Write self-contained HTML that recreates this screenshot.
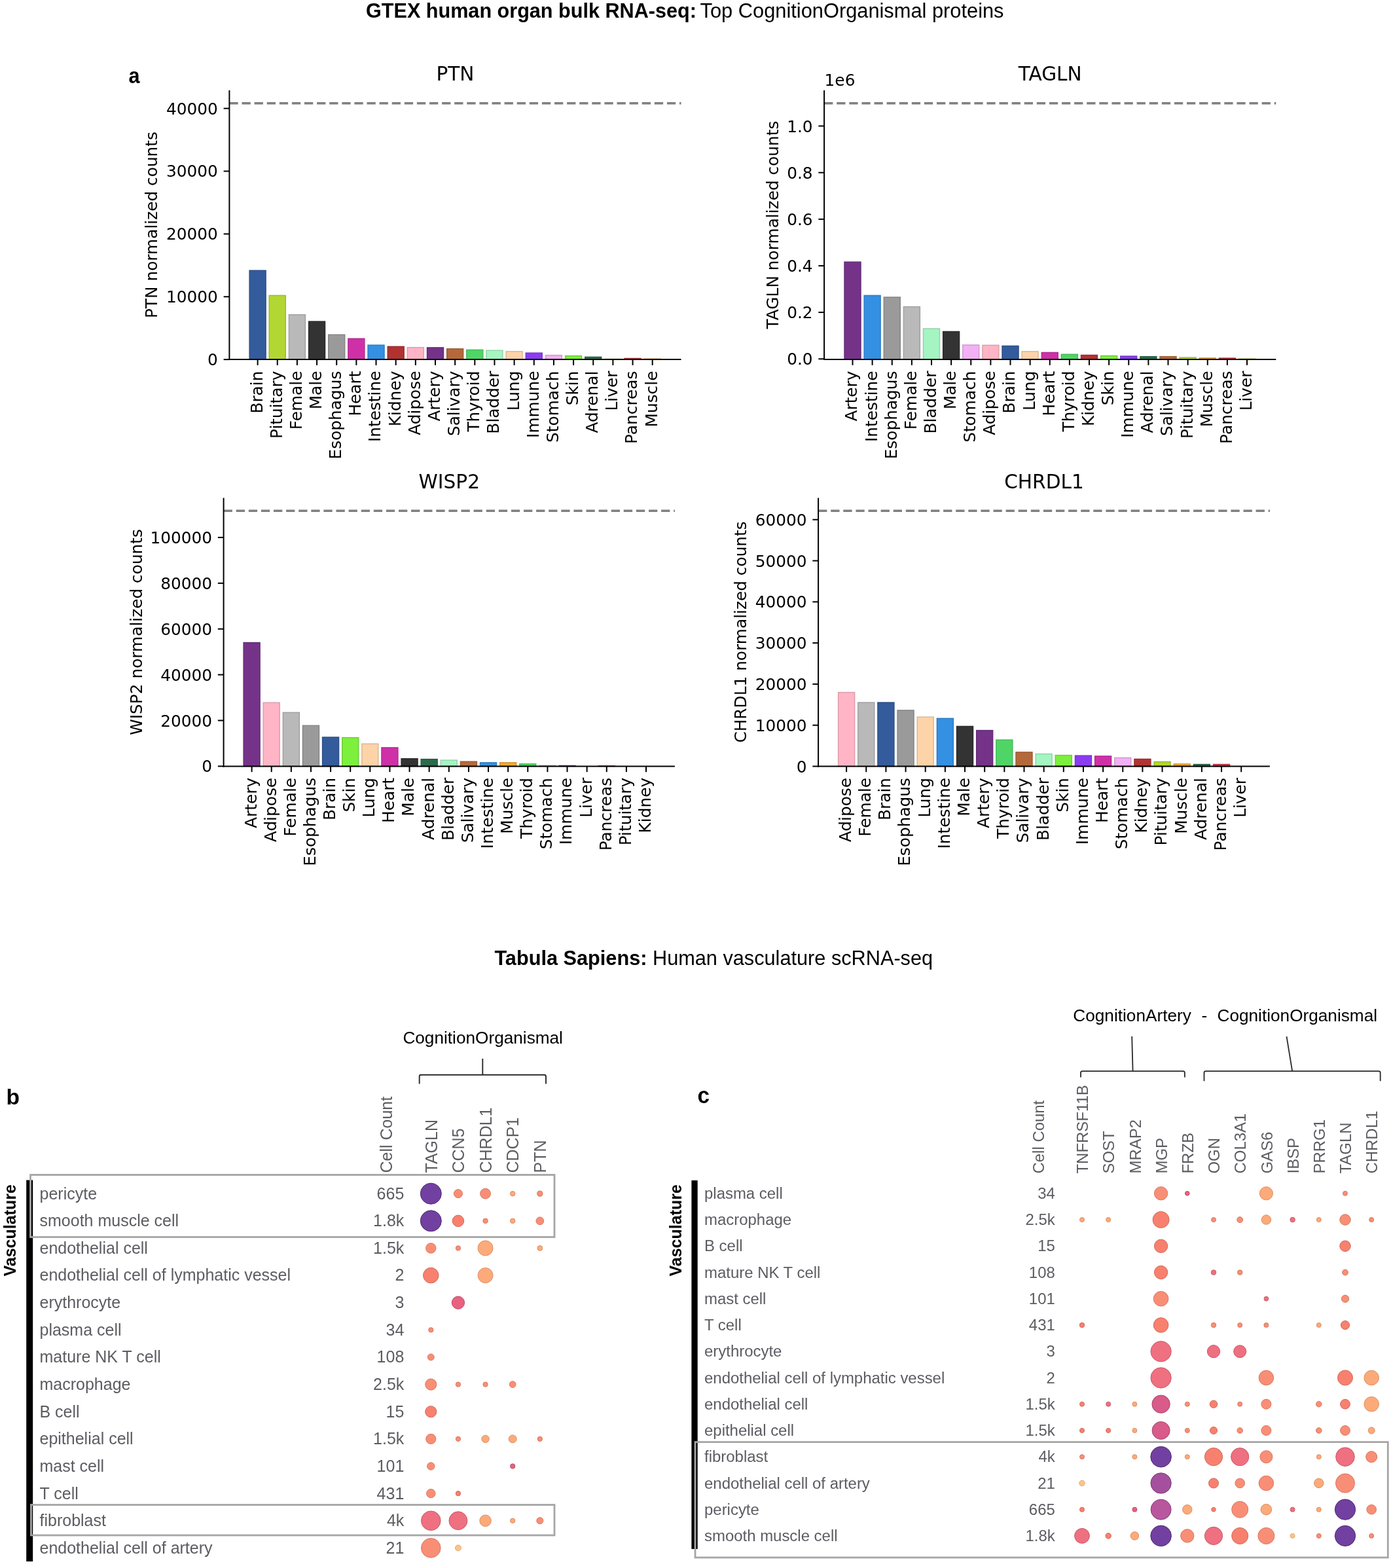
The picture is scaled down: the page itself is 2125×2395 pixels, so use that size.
<!DOCTYPE html>
<html><head><meta charset="utf-8"><title>GTEX human organ bulk RNA-seq</title>
<style>html,body{margin:0;padding:0;background:#fff;}svg{display:block;}</style></head><body>
<svg width="2125" height="2395" viewBox="0 0 2125 2395">
<rect width="2125" height="2395" fill="#fff"/>
<text x="559" y="27.4" font-family="'Liberation Sans', Arial, Helvetica, sans-serif" font-size="30.6" font-weight="bold" fill="#000">GTEX human organ bulk RNA-seq:</text>
<text x="1069.6" y="27.4" font-family="'Liberation Sans', Arial, Helvetica, sans-serif" font-size="30.8" fill="#000">Top CognitionOrganismal proteins</text>
<text transform="translate(196.5,127.4) scale(0.9,1)" font-family="'Liberation Sans', Arial, Helvetica, sans-serif" font-weight="bold" font-size="34" fill="#000">a</text>
<g font-family="'DejaVu Sans', sans-serif" fill="#000">
<rect x="381.1" y="413.1" width="25" height="136" fill="#345b9b" stroke="#2c4e85" stroke-width="1.4"/>
<rect x="411.25" y="451.3" width="25" height="97.8" fill="#b2d732" stroke="#99b82b" stroke-width="1.4"/>
<rect x="441.41" y="480.6" width="25" height="68.5" fill="#b9b9b9" stroke="#9f9f9f" stroke-width="1.4"/>
<rect x="471.57" y="491" width="25" height="58.1" fill="#333333" stroke="#2b2b2b" stroke-width="1.4"/>
<rect x="501.72" y="511.2" width="25" height="37.9" fill="#9a9a9a" stroke="#848484" stroke-width="1.4"/>
<rect x="531.88" y="517.2" width="25" height="31.9" fill="#cf30a8" stroke="#b22990" stroke-width="1.4"/>
<rect x="562.03" y="527.1" width="25" height="22" fill="#3490e2" stroke="#2c7bc2" stroke-width="1.4"/>
<rect x="592.19" y="529.3" width="25" height="19.8" fill="#b23232" stroke="#992b2b" stroke-width="1.4"/>
<rect x="622.34" y="530.7" width="25" height="18.4" fill="#ffb5c5" stroke="#db9ba9" stroke-width="1.4"/>
<rect x="652.5" y="530.9" width="25" height="18.2" fill="#743389" stroke="#632b75" stroke-width="1.4"/>
<rect x="682.65" y="532.8" width="25" height="16.3" fill="#b5693a" stroke="#9b5a31" stroke-width="1.4"/>
<rect x="712.81" y="534.4" width="25" height="14.7" fill="#4fd566" stroke="#43b757" stroke-width="1.4"/>
<rect x="742.96" y="535.2" width="25" height="13.9" fill="#a4f5c2" stroke="#8dd2a6" stroke-width="1.4"/>
<rect x="773.12" y="536.8" width="25" height="12.3" fill="#fdd3a8" stroke="#d9b590" stroke-width="1.4"/>
<rect x="803.27" y="539.1" width="25" height="10" fill="#8b3cf2" stroke="#7733d0" stroke-width="1.4"/>
<rect x="833.43" y="542.6" width="25" height="6.5" fill="#f2b0f5" stroke="#d097d2" stroke-width="1.4"/>
<rect x="863.58" y="543.5" width="25" height="5.6" fill="#7cf03c" stroke="#6ace33" stroke-width="1.4"/>
<rect x="893.74" y="545.3" width="25" height="3.8" fill="#2b6b4b" stroke="#245c40" stroke-width="1.4"/>
<rect x="923.89" y="548.3" width="25" height="0.8" fill="#eee898" stroke="#ccc782" stroke-width="1.4"/>
<rect x="954.05" y="547.4" width="25" height="1.7" fill="#d03848" stroke="#b2303d" stroke-width="1.4"/>
<rect x="984.2" y="548.2" width="25" height="0.9" fill="#f2a838" stroke="#d09030" stroke-width="1.4"/>
<line x1="350.4" y1="157.8" x2="1040.5" y2="157.8" stroke="#808080" stroke-width="3.6" stroke-dasharray="13.3 5.8"/>
<line x1="350.4" y1="138" x2="350.4" y2="550.1" stroke="#000" stroke-width="2" />
<line x1="349.4" y1="549.1" x2="1040.5" y2="549.1" stroke="#000" stroke-width="2" />
<line x1="341.65" y1="549.1" x2="350.4" y2="549.1" stroke="#000" stroke-width="2"/>
<text x="332.9" y="558.1" text-anchor="end" font-size="24.8">0</text>
<line x1="341.65" y1="453.23" x2="350.4" y2="453.23" stroke="#000" stroke-width="2"/>
<text x="332.9" y="462.23" text-anchor="end" font-size="24.8">10000</text>
<line x1="341.65" y1="357.36" x2="350.4" y2="357.36" stroke="#000" stroke-width="2"/>
<text x="332.9" y="366.36" text-anchor="end" font-size="24.8">20000</text>
<line x1="341.65" y1="261.49" x2="350.4" y2="261.49" stroke="#000" stroke-width="2"/>
<text x="332.9" y="270.49" text-anchor="end" font-size="24.8">30000</text>
<line x1="341.65" y1="165.62" x2="350.4" y2="165.62" stroke="#000" stroke-width="2"/>
<text x="332.9" y="174.62" text-anchor="end" font-size="24.8">40000</text>
<line x1="393.6" y1="549.1" x2="393.6" y2="557.85" stroke="#000" stroke-width="2"/>
<text transform="translate(400.5,566.6) rotate(-90)" text-anchor="end" font-size="24.8">Brain</text>
<line x1="423.75" y1="549.1" x2="423.75" y2="557.85" stroke="#000" stroke-width="2"/>
<text transform="translate(430.65,566.6) rotate(-90)" text-anchor="end" font-size="24.8">Pituitary</text>
<line x1="453.91" y1="549.1" x2="453.91" y2="557.85" stroke="#000" stroke-width="2"/>
<text transform="translate(460.81,566.6) rotate(-90)" text-anchor="end" font-size="24.8">Female</text>
<line x1="484.07" y1="549.1" x2="484.07" y2="557.85" stroke="#000" stroke-width="2"/>
<text transform="translate(490.97,566.6) rotate(-90)" text-anchor="end" font-size="24.8">Male</text>
<line x1="514.22" y1="549.1" x2="514.22" y2="557.85" stroke="#000" stroke-width="2"/>
<text transform="translate(521.12,566.6) rotate(-90)" text-anchor="end" font-size="24.8">Esophagus</text>
<line x1="544.38" y1="549.1" x2="544.38" y2="557.85" stroke="#000" stroke-width="2"/>
<text transform="translate(551.27,566.6) rotate(-90)" text-anchor="end" font-size="24.8">Heart</text>
<line x1="574.53" y1="549.1" x2="574.53" y2="557.85" stroke="#000" stroke-width="2"/>
<text transform="translate(581.43,566.6) rotate(-90)" text-anchor="end" font-size="24.8">Intestine</text>
<line x1="604.69" y1="549.1" x2="604.69" y2="557.85" stroke="#000" stroke-width="2"/>
<text transform="translate(611.59,566.6) rotate(-90)" text-anchor="end" font-size="24.8">Kidney</text>
<line x1="634.84" y1="549.1" x2="634.84" y2="557.85" stroke="#000" stroke-width="2"/>
<text transform="translate(641.74,566.6) rotate(-90)" text-anchor="end" font-size="24.8">Adipose</text>
<line x1="665" y1="549.1" x2="665" y2="557.85" stroke="#000" stroke-width="2"/>
<text transform="translate(671.89,566.6) rotate(-90)" text-anchor="end" font-size="24.8">Artery</text>
<line x1="695.15" y1="549.1" x2="695.15" y2="557.85" stroke="#000" stroke-width="2"/>
<text transform="translate(702.05,566.6) rotate(-90)" text-anchor="end" font-size="24.8">Salivary</text>
<line x1="725.31" y1="549.1" x2="725.31" y2="557.85" stroke="#000" stroke-width="2"/>
<text transform="translate(732.21,566.6) rotate(-90)" text-anchor="end" font-size="24.8">Thyroid</text>
<line x1="755.46" y1="549.1" x2="755.46" y2="557.85" stroke="#000" stroke-width="2"/>
<text transform="translate(762.36,566.6) rotate(-90)" text-anchor="end" font-size="24.8">Bladder</text>
<line x1="785.62" y1="549.1" x2="785.62" y2="557.85" stroke="#000" stroke-width="2"/>
<text transform="translate(792.51,566.6) rotate(-90)" text-anchor="end" font-size="24.8">Lung</text>
<line x1="815.77" y1="549.1" x2="815.77" y2="557.85" stroke="#000" stroke-width="2"/>
<text transform="translate(822.67,566.6) rotate(-90)" text-anchor="end" font-size="24.8">Immune</text>
<line x1="845.93" y1="549.1" x2="845.93" y2="557.85" stroke="#000" stroke-width="2"/>
<text transform="translate(852.83,566.6) rotate(-90)" text-anchor="end" font-size="24.8">Stomach</text>
<line x1="876.08" y1="549.1" x2="876.08" y2="557.85" stroke="#000" stroke-width="2"/>
<text transform="translate(882.98,566.6) rotate(-90)" text-anchor="end" font-size="24.8">Skin</text>
<line x1="906.24" y1="549.1" x2="906.24" y2="557.85" stroke="#000" stroke-width="2"/>
<text transform="translate(913.13,566.6) rotate(-90)" text-anchor="end" font-size="24.8">Adrenal</text>
<line x1="936.39" y1="549.1" x2="936.39" y2="557.85" stroke="#000" stroke-width="2"/>
<text transform="translate(943.29,566.6) rotate(-90)" text-anchor="end" font-size="24.8">Liver</text>
<line x1="966.55" y1="549.1" x2="966.55" y2="557.85" stroke="#000" stroke-width="2"/>
<text transform="translate(973.45,566.6) rotate(-90)" text-anchor="end" font-size="24.8">Pancreas</text>
<line x1="996.7" y1="549.1" x2="996.7" y2="557.85" stroke="#000" stroke-width="2"/>
<text transform="translate(1003.6,566.6) rotate(-90)" text-anchor="end" font-size="24.8">Muscle</text>
<text x="695.45" y="123.1" text-anchor="middle" font-size="29.6">PTN</text>
<text transform="translate(240.3,343.55) rotate(-90)" text-anchor="middle" font-size="24.8">PTN normalized counts</text>
<rect x="1290" y="400.1" width="25" height="148.9" fill="#743389" stroke="#632b75" stroke-width="1.4"/>
<rect x="1320.12" y="451.3" width="25" height="97.7" fill="#3490e2" stroke="#2c7bc2" stroke-width="1.4"/>
<rect x="1350.25" y="453.9" width="25" height="95.1" fill="#9a9a9a" stroke="#848484" stroke-width="1.4"/>
<rect x="1380.38" y="468.5" width="25" height="80.5" fill="#b9b9b9" stroke="#9f9f9f" stroke-width="1.4"/>
<rect x="1410.5" y="502" width="25" height="47" fill="#a4f5c2" stroke="#8dd2a6" stroke-width="1.4"/>
<rect x="1440.62" y="506.4" width="25" height="42.6" fill="#333333" stroke="#2b2b2b" stroke-width="1.4"/>
<rect x="1470.75" y="526.9" width="25" height="22.1" fill="#f2b0f5" stroke="#d097d2" stroke-width="1.4"/>
<rect x="1500.88" y="527.3" width="25" height="21.7" fill="#ffb5c5" stroke="#db9ba9" stroke-width="1.4"/>
<rect x="1531" y="528.4" width="25" height="20.6" fill="#345b9b" stroke="#2c4e85" stroke-width="1.4"/>
<rect x="1561.12" y="536.8" width="25" height="12.2" fill="#fdd3a8" stroke="#d9b590" stroke-width="1.4"/>
<rect x="1591.25" y="538.4" width="25" height="10.6" fill="#cf30a8" stroke="#b22990" stroke-width="1.4"/>
<rect x="1621.38" y="541.2" width="25" height="7.8" fill="#4fd566" stroke="#43b757" stroke-width="1.4"/>
<rect x="1651.5" y="542.4" width="25" height="6.6" fill="#b23232" stroke="#992b2b" stroke-width="1.4"/>
<rect x="1681.62" y="543.4" width="25" height="5.6" fill="#7cf03c" stroke="#6ace33" stroke-width="1.4"/>
<rect x="1711.75" y="544" width="25" height="5" fill="#8b3cf2" stroke="#7733d0" stroke-width="1.4"/>
<rect x="1741.88" y="544.6" width="25" height="4.4" fill="#2b6b4b" stroke="#245c40" stroke-width="1.4"/>
<rect x="1772" y="544.6" width="25" height="4.4" fill="#b5693a" stroke="#9b5a31" stroke-width="1.4"/>
<rect x="1802.12" y="546" width="25" height="3" fill="#b2d732" stroke="#99b82b" stroke-width="1.4"/>
<rect x="1832.25" y="546.8" width="25" height="2.2" fill="#f2a838" stroke="#d09030" stroke-width="1.4"/>
<rect x="1862.38" y="547" width="25" height="2" fill="#d03848" stroke="#b2303d" stroke-width="1.4"/>
<rect x="1892.5" y="547.8" width="25" height="1.2" fill="#eee898" stroke="#ccc782" stroke-width="1.4"/>
<line x1="1259.1" y1="157.8" x2="1949.3" y2="157.8" stroke="#808080" stroke-width="3.6" stroke-dasharray="13.3 5.8"/>
<line x1="1259.1" y1="138" x2="1259.1" y2="550" stroke="#000" stroke-width="2" />
<line x1="1258.1" y1="549" x2="1949.3" y2="549" stroke="#000" stroke-width="2" />
<line x1="1250.35" y1="548.25" x2="1259.1" y2="548.25" stroke="#000" stroke-width="2"/>
<text x="1241.6" y="557.25" text-anchor="end" font-size="24.8">0.0</text>
<line x1="1250.35" y1="477.1" x2="1259.1" y2="477.1" stroke="#000" stroke-width="2"/>
<text x="1241.6" y="486.1" text-anchor="end" font-size="24.8">0.2</text>
<line x1="1250.35" y1="405.95" x2="1259.1" y2="405.95" stroke="#000" stroke-width="2"/>
<text x="1241.6" y="414.95" text-anchor="end" font-size="24.8">0.4</text>
<line x1="1250.35" y1="334.8" x2="1259.1" y2="334.8" stroke="#000" stroke-width="2"/>
<text x="1241.6" y="343.8" text-anchor="end" font-size="24.8">0.6</text>
<line x1="1250.35" y1="263.65" x2="1259.1" y2="263.65" stroke="#000" stroke-width="2"/>
<text x="1241.6" y="272.65" text-anchor="end" font-size="24.8">0.8</text>
<line x1="1250.35" y1="192.5" x2="1259.1" y2="192.5" stroke="#000" stroke-width="2"/>
<text x="1241.6" y="201.5" text-anchor="end" font-size="24.8">1.0</text>
<line x1="1302.5" y1="549" x2="1302.5" y2="557.75" stroke="#000" stroke-width="2"/>
<text transform="translate(1309.4,566.5) rotate(-90)" text-anchor="end" font-size="24.8">Artery</text>
<line x1="1332.62" y1="549" x2="1332.62" y2="557.75" stroke="#000" stroke-width="2"/>
<text transform="translate(1339.53,566.5) rotate(-90)" text-anchor="end" font-size="24.8">Intestine</text>
<line x1="1362.75" y1="549" x2="1362.75" y2="557.75" stroke="#000" stroke-width="2"/>
<text transform="translate(1369.65,566.5) rotate(-90)" text-anchor="end" font-size="24.8">Esophagus</text>
<line x1="1392.88" y1="549" x2="1392.88" y2="557.75" stroke="#000" stroke-width="2"/>
<text transform="translate(1399.78,566.5) rotate(-90)" text-anchor="end" font-size="24.8">Female</text>
<line x1="1423" y1="549" x2="1423" y2="557.75" stroke="#000" stroke-width="2"/>
<text transform="translate(1429.9,566.5) rotate(-90)" text-anchor="end" font-size="24.8">Bladder</text>
<line x1="1453.12" y1="549" x2="1453.12" y2="557.75" stroke="#000" stroke-width="2"/>
<text transform="translate(1460.03,566.5) rotate(-90)" text-anchor="end" font-size="24.8">Male</text>
<line x1="1483.25" y1="549" x2="1483.25" y2="557.75" stroke="#000" stroke-width="2"/>
<text transform="translate(1490.15,566.5) rotate(-90)" text-anchor="end" font-size="24.8">Stomach</text>
<line x1="1513.38" y1="549" x2="1513.38" y2="557.75" stroke="#000" stroke-width="2"/>
<text transform="translate(1520.28,566.5) rotate(-90)" text-anchor="end" font-size="24.8">Adipose</text>
<line x1="1543.5" y1="549" x2="1543.5" y2="557.75" stroke="#000" stroke-width="2"/>
<text transform="translate(1550.4,566.5) rotate(-90)" text-anchor="end" font-size="24.8">Brain</text>
<line x1="1573.62" y1="549" x2="1573.62" y2="557.75" stroke="#000" stroke-width="2"/>
<text transform="translate(1580.53,566.5) rotate(-90)" text-anchor="end" font-size="24.8">Lung</text>
<line x1="1603.75" y1="549" x2="1603.75" y2="557.75" stroke="#000" stroke-width="2"/>
<text transform="translate(1610.65,566.5) rotate(-90)" text-anchor="end" font-size="24.8">Heart</text>
<line x1="1633.88" y1="549" x2="1633.88" y2="557.75" stroke="#000" stroke-width="2"/>
<text transform="translate(1640.78,566.5) rotate(-90)" text-anchor="end" font-size="24.8">Thyroid</text>
<line x1="1664" y1="549" x2="1664" y2="557.75" stroke="#000" stroke-width="2"/>
<text transform="translate(1670.9,566.5) rotate(-90)" text-anchor="end" font-size="24.8">Kidney</text>
<line x1="1694.12" y1="549" x2="1694.12" y2="557.75" stroke="#000" stroke-width="2"/>
<text transform="translate(1701.03,566.5) rotate(-90)" text-anchor="end" font-size="24.8">Skin</text>
<line x1="1724.25" y1="549" x2="1724.25" y2="557.75" stroke="#000" stroke-width="2"/>
<text transform="translate(1731.15,566.5) rotate(-90)" text-anchor="end" font-size="24.8">Immune</text>
<line x1="1754.38" y1="549" x2="1754.38" y2="557.75" stroke="#000" stroke-width="2"/>
<text transform="translate(1761.28,566.5) rotate(-90)" text-anchor="end" font-size="24.8">Adrenal</text>
<line x1="1784.5" y1="549" x2="1784.5" y2="557.75" stroke="#000" stroke-width="2"/>
<text transform="translate(1791.4,566.5) rotate(-90)" text-anchor="end" font-size="24.8">Salivary</text>
<line x1="1814.62" y1="549" x2="1814.62" y2="557.75" stroke="#000" stroke-width="2"/>
<text transform="translate(1821.53,566.5) rotate(-90)" text-anchor="end" font-size="24.8">Pituitary</text>
<line x1="1844.75" y1="549" x2="1844.75" y2="557.75" stroke="#000" stroke-width="2"/>
<text transform="translate(1851.65,566.5) rotate(-90)" text-anchor="end" font-size="24.8">Muscle</text>
<line x1="1874.88" y1="549" x2="1874.88" y2="557.75" stroke="#000" stroke-width="2"/>
<text transform="translate(1881.78,566.5) rotate(-90)" text-anchor="end" font-size="24.8">Pancreas</text>
<line x1="1905" y1="549" x2="1905" y2="557.75" stroke="#000" stroke-width="2"/>
<text transform="translate(1911.9,566.5) rotate(-90)" text-anchor="end" font-size="24.8">Liver</text>
<text x="1604.2" y="123.1" text-anchor="middle" font-size="29.6">TAGLN</text>
<text transform="translate(1188.6,343.5) rotate(-90)" text-anchor="middle" font-size="24.8">TAGLN normalized counts</text>
<text x="1259.6" y="130.5" font-size="24.8">1e6</text>
<rect x="372.1" y="981.5" width="25" height="188.9" fill="#743389" stroke="#632b75" stroke-width="1.4"/>
<rect x="402.22" y="1073.2" width="25" height="97.2" fill="#ffb5c5" stroke="#db9ba9" stroke-width="1.4"/>
<rect x="432.34" y="1088.3" width="25" height="82.1" fill="#b9b9b9" stroke="#9f9f9f" stroke-width="1.4"/>
<rect x="462.46" y="1108.2" width="25" height="62.2" fill="#9a9a9a" stroke="#848484" stroke-width="1.4"/>
<rect x="492.58" y="1126" width="25" height="44.4" fill="#345b9b" stroke="#2c4e85" stroke-width="1.4"/>
<rect x="522.7" y="1126.6" width="25" height="43.8" fill="#7cf03c" stroke="#6ace33" stroke-width="1.4"/>
<rect x="552.82" y="1136.1" width="25" height="34.3" fill="#fdd3a8" stroke="#d9b590" stroke-width="1.4"/>
<rect x="582.94" y="1141.9" width="25" height="28.5" fill="#cf30a8" stroke="#b22990" stroke-width="1.4"/>
<rect x="613.06" y="1158.8" width="25" height="11.6" fill="#333333" stroke="#2b2b2b" stroke-width="1.4"/>
<rect x="643.18" y="1159.6" width="25" height="10.8" fill="#2b6b4b" stroke="#245c40" stroke-width="1.4"/>
<rect x="673.3" y="1161.1" width="25" height="9.3" fill="#a4f5c2" stroke="#8dd2a6" stroke-width="1.4"/>
<rect x="703.42" y="1163.2" width="25" height="7.2" fill="#b5693a" stroke="#9b5a31" stroke-width="1.4"/>
<rect x="733.54" y="1164.8" width="25" height="5.6" fill="#3490e2" stroke="#2c7bc2" stroke-width="1.4"/>
<rect x="763.66" y="1164.8" width="25" height="5.6" fill="#f2a838" stroke="#d09030" stroke-width="1.4"/>
<rect x="793.78" y="1166.8" width="25" height="3.6" fill="#4fd566" stroke="#43b757" stroke-width="1.4"/>
<rect x="823.9" y="1169.2" width="25" height="1.2" fill="#f2b0f5" stroke="#d097d2" stroke-width="1.4"/>
<rect x="854.02" y="1169.4" width="25" height="1" fill="#8b3cf2" stroke="#7733d0" stroke-width="1.4"/>
<rect x="914.26" y="1169.8" width="25" height="0.6" fill="#d03848" stroke="#b2303d" stroke-width="1.4"/>
<line x1="341.6" y1="780.2" x2="1030.9" y2="780.2" stroke="#808080" stroke-width="3.6" stroke-dasharray="13.3 5.8"/>
<line x1="341.6" y1="760.4" x2="341.6" y2="1171.4" stroke="#000" stroke-width="2" />
<line x1="340.6" y1="1170.4" x2="1030.9" y2="1170.4" stroke="#000" stroke-width="2" />
<line x1="332.85" y1="1170.4" x2="341.6" y2="1170.4" stroke="#000" stroke-width="2"/>
<text x="324.1" y="1179.4" text-anchor="end" font-size="24.8">0</text>
<line x1="332.85" y1="1100.5" x2="341.6" y2="1100.5" stroke="#000" stroke-width="2"/>
<text x="324.1" y="1109.5" text-anchor="end" font-size="24.8">20000</text>
<line x1="332.85" y1="1030.6" x2="341.6" y2="1030.6" stroke="#000" stroke-width="2"/>
<text x="324.1" y="1039.6" text-anchor="end" font-size="24.8">40000</text>
<line x1="332.85" y1="960.7" x2="341.6" y2="960.7" stroke="#000" stroke-width="2"/>
<text x="324.1" y="969.7" text-anchor="end" font-size="24.8">60000</text>
<line x1="332.85" y1="890.8" x2="341.6" y2="890.8" stroke="#000" stroke-width="2"/>
<text x="324.1" y="899.8" text-anchor="end" font-size="24.8">80000</text>
<line x1="332.85" y1="820.9" x2="341.6" y2="820.9" stroke="#000" stroke-width="2"/>
<text x="324.1" y="829.9" text-anchor="end" font-size="24.8">100000</text>
<line x1="384.6" y1="1170.4" x2="384.6" y2="1179.15" stroke="#000" stroke-width="2"/>
<text transform="translate(391.5,1187.9) rotate(-90)" text-anchor="end" font-size="24.8">Artery</text>
<line x1="414.72" y1="1170.4" x2="414.72" y2="1179.15" stroke="#000" stroke-width="2"/>
<text transform="translate(421.62,1187.9) rotate(-90)" text-anchor="end" font-size="24.8">Adipose</text>
<line x1="444.84" y1="1170.4" x2="444.84" y2="1179.15" stroke="#000" stroke-width="2"/>
<text transform="translate(451.74,1187.9) rotate(-90)" text-anchor="end" font-size="24.8">Female</text>
<line x1="474.96" y1="1170.4" x2="474.96" y2="1179.15" stroke="#000" stroke-width="2"/>
<text transform="translate(481.86,1187.9) rotate(-90)" text-anchor="end" font-size="24.8">Esophagus</text>
<line x1="505.08" y1="1170.4" x2="505.08" y2="1179.15" stroke="#000" stroke-width="2"/>
<text transform="translate(511.98,1187.9) rotate(-90)" text-anchor="end" font-size="24.8">Brain</text>
<line x1="535.2" y1="1170.4" x2="535.2" y2="1179.15" stroke="#000" stroke-width="2"/>
<text transform="translate(542.1,1187.9) rotate(-90)" text-anchor="end" font-size="24.8">Skin</text>
<line x1="565.32" y1="1170.4" x2="565.32" y2="1179.15" stroke="#000" stroke-width="2"/>
<text transform="translate(572.22,1187.9) rotate(-90)" text-anchor="end" font-size="24.8">Lung</text>
<line x1="595.44" y1="1170.4" x2="595.44" y2="1179.15" stroke="#000" stroke-width="2"/>
<text transform="translate(602.34,1187.9) rotate(-90)" text-anchor="end" font-size="24.8">Heart</text>
<line x1="625.56" y1="1170.4" x2="625.56" y2="1179.15" stroke="#000" stroke-width="2"/>
<text transform="translate(632.46,1187.9) rotate(-90)" text-anchor="end" font-size="24.8">Male</text>
<line x1="655.68" y1="1170.4" x2="655.68" y2="1179.15" stroke="#000" stroke-width="2"/>
<text transform="translate(662.58,1187.9) rotate(-90)" text-anchor="end" font-size="24.8">Adrenal</text>
<line x1="685.8" y1="1170.4" x2="685.8" y2="1179.15" stroke="#000" stroke-width="2"/>
<text transform="translate(692.7,1187.9) rotate(-90)" text-anchor="end" font-size="24.8">Bladder</text>
<line x1="715.92" y1="1170.4" x2="715.92" y2="1179.15" stroke="#000" stroke-width="2"/>
<text transform="translate(722.82,1187.9) rotate(-90)" text-anchor="end" font-size="24.8">Salivary</text>
<line x1="746.04" y1="1170.4" x2="746.04" y2="1179.15" stroke="#000" stroke-width="2"/>
<text transform="translate(752.94,1187.9) rotate(-90)" text-anchor="end" font-size="24.8">Intestine</text>
<line x1="776.16" y1="1170.4" x2="776.16" y2="1179.15" stroke="#000" stroke-width="2"/>
<text transform="translate(783.06,1187.9) rotate(-90)" text-anchor="end" font-size="24.8">Muscle</text>
<line x1="806.28" y1="1170.4" x2="806.28" y2="1179.15" stroke="#000" stroke-width="2"/>
<text transform="translate(813.18,1187.9) rotate(-90)" text-anchor="end" font-size="24.8">Thyroid</text>
<line x1="836.4" y1="1170.4" x2="836.4" y2="1179.15" stroke="#000" stroke-width="2"/>
<text transform="translate(843.3,1187.9) rotate(-90)" text-anchor="end" font-size="24.8">Stomach</text>
<line x1="866.52" y1="1170.4" x2="866.52" y2="1179.15" stroke="#000" stroke-width="2"/>
<text transform="translate(873.42,1187.9) rotate(-90)" text-anchor="end" font-size="24.8">Immune</text>
<line x1="896.64" y1="1170.4" x2="896.64" y2="1179.15" stroke="#000" stroke-width="2"/>
<text transform="translate(903.54,1187.9) rotate(-90)" text-anchor="end" font-size="24.8">Liver</text>
<line x1="926.76" y1="1170.4" x2="926.76" y2="1179.15" stroke="#000" stroke-width="2"/>
<text transform="translate(933.66,1187.9) rotate(-90)" text-anchor="end" font-size="24.8">Pancreas</text>
<line x1="956.88" y1="1170.4" x2="956.88" y2="1179.15" stroke="#000" stroke-width="2"/>
<text transform="translate(963.78,1187.9) rotate(-90)" text-anchor="end" font-size="24.8">Pituitary</text>
<line x1="987" y1="1170.4" x2="987" y2="1179.15" stroke="#000" stroke-width="2"/>
<text transform="translate(993.9,1187.9) rotate(-90)" text-anchor="end" font-size="24.8">Kidney</text>
<text x="686.25" y="745.8" text-anchor="middle" font-size="29.6">WISP2</text>
<text transform="translate(216.6,965.4) rotate(-90)" text-anchor="middle" font-size="24.8">WISP2 normalized counts</text>
<rect x="1280.6" y="1057.6" width="25" height="112.9" fill="#ffb5c5" stroke="#db9ba9" stroke-width="1.4"/>
<rect x="1310.75" y="1073" width="25" height="97.5" fill="#b9b9b9" stroke="#9f9f9f" stroke-width="1.4"/>
<rect x="1340.91" y="1073" width="25" height="97.5" fill="#345b9b" stroke="#2c4e85" stroke-width="1.4"/>
<rect x="1371.06" y="1084.9" width="25" height="85.6" fill="#9a9a9a" stroke="#848484" stroke-width="1.4"/>
<rect x="1401.22" y="1095.1" width="25" height="75.4" fill="#fdd3a8" stroke="#d9b590" stroke-width="1.4"/>
<rect x="1431.38" y="1097.3" width="25" height="73.2" fill="#3490e2" stroke="#2c7bc2" stroke-width="1.4"/>
<rect x="1461.53" y="1109.4" width="25" height="61.1" fill="#333333" stroke="#2b2b2b" stroke-width="1.4"/>
<rect x="1491.68" y="1115.6" width="25" height="54.9" fill="#743389" stroke="#632b75" stroke-width="1.4"/>
<rect x="1521.84" y="1130.1" width="25" height="40.4" fill="#4fd566" stroke="#43b757" stroke-width="1.4"/>
<rect x="1551.99" y="1148.9" width="25" height="21.6" fill="#b5693a" stroke="#9b5a31" stroke-width="1.4"/>
<rect x="1582.15" y="1151.6" width="25" height="18.9" fill="#a4f5c2" stroke="#8dd2a6" stroke-width="1.4"/>
<rect x="1612.3" y="1153.6" width="25" height="16.9" fill="#7cf03c" stroke="#6ace33" stroke-width="1.4"/>
<rect x="1642.46" y="1154.1" width="25" height="16.4" fill="#8b3cf2" stroke="#7733d0" stroke-width="1.4"/>
<rect x="1672.61" y="1154.9" width="25" height="15.6" fill="#cf30a8" stroke="#b22990" stroke-width="1.4"/>
<rect x="1702.77" y="1157.4" width="25" height="13.1" fill="#f2b0f5" stroke="#d097d2" stroke-width="1.4"/>
<rect x="1732.92" y="1159.4" width="25" height="11.1" fill="#b23232" stroke="#992b2b" stroke-width="1.4"/>
<rect x="1763.08" y="1163.5" width="25" height="7" fill="#b2d732" stroke="#99b82b" stroke-width="1.4"/>
<rect x="1793.23" y="1166.9" width="25" height="3.6" fill="#f2a838" stroke="#d09030" stroke-width="1.4"/>
<rect x="1823.39" y="1167.5" width="25" height="3" fill="#2b6b4b" stroke="#245c40" stroke-width="1.4"/>
<rect x="1853.55" y="1167.5" width="25" height="3" fill="#d03848" stroke="#b2303d" stroke-width="1.4"/>
<line x1="1250.1" y1="780.2" x2="1939.9" y2="780.2" stroke="#808080" stroke-width="3.6" stroke-dasharray="13.3 5.8"/>
<line x1="1250.1" y1="760.4" x2="1250.1" y2="1171.5" stroke="#000" stroke-width="2" />
<line x1="1249.1" y1="1170.5" x2="1939.9" y2="1170.5" stroke="#000" stroke-width="2" />
<line x1="1241.35" y1="1170.5" x2="1250.1" y2="1170.5" stroke="#000" stroke-width="2"/>
<text x="1232.6" y="1179.5" text-anchor="end" font-size="24.8">0</text>
<line x1="1241.35" y1="1107.7" x2="1250.1" y2="1107.7" stroke="#000" stroke-width="2"/>
<text x="1232.6" y="1116.7" text-anchor="end" font-size="24.8">10000</text>
<line x1="1241.35" y1="1044.9" x2="1250.1" y2="1044.9" stroke="#000" stroke-width="2"/>
<text x="1232.6" y="1053.9" text-anchor="end" font-size="24.8">20000</text>
<line x1="1241.35" y1="982.1" x2="1250.1" y2="982.1" stroke="#000" stroke-width="2"/>
<text x="1232.6" y="991.1" text-anchor="end" font-size="24.8">30000</text>
<line x1="1241.35" y1="919.3" x2="1250.1" y2="919.3" stroke="#000" stroke-width="2"/>
<text x="1232.6" y="928.3" text-anchor="end" font-size="24.8">40000</text>
<line x1="1241.35" y1="856.5" x2="1250.1" y2="856.5" stroke="#000" stroke-width="2"/>
<text x="1232.6" y="865.5" text-anchor="end" font-size="24.8">50000</text>
<line x1="1241.35" y1="793.7" x2="1250.1" y2="793.7" stroke="#000" stroke-width="2"/>
<text x="1232.6" y="802.7" text-anchor="end" font-size="24.8">60000</text>
<line x1="1293.1" y1="1170.5" x2="1293.1" y2="1179.25" stroke="#000" stroke-width="2"/>
<text transform="translate(1300,1188) rotate(-90)" text-anchor="end" font-size="24.8">Adipose</text>
<line x1="1323.25" y1="1170.5" x2="1323.25" y2="1179.25" stroke="#000" stroke-width="2"/>
<text transform="translate(1330.15,1188) rotate(-90)" text-anchor="end" font-size="24.8">Female</text>
<line x1="1353.41" y1="1170.5" x2="1353.41" y2="1179.25" stroke="#000" stroke-width="2"/>
<text transform="translate(1360.31,1188) rotate(-90)" text-anchor="end" font-size="24.8">Brain</text>
<line x1="1383.56" y1="1170.5" x2="1383.56" y2="1179.25" stroke="#000" stroke-width="2"/>
<text transform="translate(1390.46,1188) rotate(-90)" text-anchor="end" font-size="24.8">Esophagus</text>
<line x1="1413.72" y1="1170.5" x2="1413.72" y2="1179.25" stroke="#000" stroke-width="2"/>
<text transform="translate(1420.62,1188) rotate(-90)" text-anchor="end" font-size="24.8">Lung</text>
<line x1="1443.88" y1="1170.5" x2="1443.88" y2="1179.25" stroke="#000" stroke-width="2"/>
<text transform="translate(1450.78,1188) rotate(-90)" text-anchor="end" font-size="24.8">Intestine</text>
<line x1="1474.03" y1="1170.5" x2="1474.03" y2="1179.25" stroke="#000" stroke-width="2"/>
<text transform="translate(1480.93,1188) rotate(-90)" text-anchor="end" font-size="24.8">Male</text>
<line x1="1504.18" y1="1170.5" x2="1504.18" y2="1179.25" stroke="#000" stroke-width="2"/>
<text transform="translate(1511.09,1188) rotate(-90)" text-anchor="end" font-size="24.8">Artery</text>
<line x1="1534.34" y1="1170.5" x2="1534.34" y2="1179.25" stroke="#000" stroke-width="2"/>
<text transform="translate(1541.24,1188) rotate(-90)" text-anchor="end" font-size="24.8">Thyroid</text>
<line x1="1564.49" y1="1170.5" x2="1564.49" y2="1179.25" stroke="#000" stroke-width="2"/>
<text transform="translate(1571.39,1188) rotate(-90)" text-anchor="end" font-size="24.8">Salivary</text>
<line x1="1594.65" y1="1170.5" x2="1594.65" y2="1179.25" stroke="#000" stroke-width="2"/>
<text transform="translate(1601.55,1188) rotate(-90)" text-anchor="end" font-size="24.8">Bladder</text>
<line x1="1624.8" y1="1170.5" x2="1624.8" y2="1179.25" stroke="#000" stroke-width="2"/>
<text transform="translate(1631.7,1188) rotate(-90)" text-anchor="end" font-size="24.8">Skin</text>
<line x1="1654.96" y1="1170.5" x2="1654.96" y2="1179.25" stroke="#000" stroke-width="2"/>
<text transform="translate(1661.86,1188) rotate(-90)" text-anchor="end" font-size="24.8">Immune</text>
<line x1="1685.11" y1="1170.5" x2="1685.11" y2="1179.25" stroke="#000" stroke-width="2"/>
<text transform="translate(1692.01,1188) rotate(-90)" text-anchor="end" font-size="24.8">Heart</text>
<line x1="1715.27" y1="1170.5" x2="1715.27" y2="1179.25" stroke="#000" stroke-width="2"/>
<text transform="translate(1722.17,1188) rotate(-90)" text-anchor="end" font-size="24.8">Stomach</text>
<line x1="1745.42" y1="1170.5" x2="1745.42" y2="1179.25" stroke="#000" stroke-width="2"/>
<text transform="translate(1752.33,1188) rotate(-90)" text-anchor="end" font-size="24.8">Kidney</text>
<line x1="1775.58" y1="1170.5" x2="1775.58" y2="1179.25" stroke="#000" stroke-width="2"/>
<text transform="translate(1782.48,1188) rotate(-90)" text-anchor="end" font-size="24.8">Pituitary</text>
<line x1="1805.73" y1="1170.5" x2="1805.73" y2="1179.25" stroke="#000" stroke-width="2"/>
<text transform="translate(1812.63,1188) rotate(-90)" text-anchor="end" font-size="24.8">Muscle</text>
<line x1="1835.89" y1="1170.5" x2="1835.89" y2="1179.25" stroke="#000" stroke-width="2"/>
<text transform="translate(1842.79,1188) rotate(-90)" text-anchor="end" font-size="24.8">Adrenal</text>
<line x1="1866.05" y1="1170.5" x2="1866.05" y2="1179.25" stroke="#000" stroke-width="2"/>
<text transform="translate(1872.95,1188) rotate(-90)" text-anchor="end" font-size="24.8">Pancreas</text>
<line x1="1896.2" y1="1170.5" x2="1896.2" y2="1179.25" stroke="#000" stroke-width="2"/>
<text transform="translate(1903.1,1188) rotate(-90)" text-anchor="end" font-size="24.8">Liver</text>
<text x="1595" y="745.8" text-anchor="middle" font-size="29.6">CHRDL1</text>
<text transform="translate(1140,965.45) rotate(-90)" text-anchor="middle" font-size="24.8">CHRDL1 normalized counts</text>
</g>
<text x="755.4" y="1474.0" font-family="'Liberation Sans', Arial, Helvetica, sans-serif" font-size="30.7" font-weight="bold" fill="#000">Tabula Sapiens:</text>
<text x="997" y="1474.0" font-family="'Liberation Sans', Arial, Helvetica, sans-serif" font-size="30.7" fill="#000">Human vasculature scRNA-seq</text>
<text x="9.6" y="1686.7" font-family="'Liberation Sans', Arial, Helvetica, sans-serif" font-weight="bold" font-size="33.5" fill="#000">b</text>
<text transform="translate(1065.4,1685.3) scale(0.95,1)" font-family="'Liberation Sans', Arial, Helvetica, sans-serif" font-weight="bold" font-size="35" fill="#000">c</text>
<path d="M640.7,1655.6 L640.7,1644.2 Q640.7,1641.7 643.2,1641.7 L831.5,1641.7 Q834,1641.7 834,1644.2 L834,1655.6" fill="none" stroke="#2a2a2a" stroke-width="1.9"/>
<line x1="737.3" y1="1617" x2="737.3" y2="1641.7" stroke="#2a2a2a" stroke-width="1.9"/>
<text x="615.4" y="1594.0" font-family="'Liberation Sans', Arial, Helvetica, sans-serif" font-size="26.2" fill="#000">CognitionOrganismal</text>
<path d="M1651,1645.5 L1651,1638.7 Q1651,1636.2 1653.5,1636.2 L1807.4,1636.2 Q1809.9,1636.2 1809.9,1638.7 L1809.9,1645.5" fill="none" stroke="#2a2a2a" stroke-width="1.8"/>
<line x1="1729.2" y1="1583.1" x2="1730.6" y2="1636.2" stroke="#2a2a2a" stroke-width="1.8"/>
<path d="M1839.5,1651.3 L1839.5,1638.7 Q1839.5,1636.2 1842,1636.2 L2106.2,1636.2 Q2108.7,1636.2 2108.7,1638.7 L2108.7,1651.3" fill="none" stroke="#2a2a2a" stroke-width="1.8"/>
<line x1="1965.5" y1="1583.1" x2="1974.2" y2="1636.2" stroke="#2a2a2a" stroke-width="1.8"/>
<text x="1639.3" y="1559.8" font-family="'Liberation Sans', Arial, Helvetica, sans-serif" font-size="26.2" fill="#000">CognitionArtery</text>
<text x="1835.6" y="1559.8" font-family="'Liberation Sans', Arial, Helvetica, sans-serif" font-size="26.2" fill="#000">-</text>
<text x="1859.5" y="1559.8" font-family="'Liberation Sans', Arial, Helvetica, sans-serif" font-size="26.2" fill="#000">CognitionOrganismal</text>
<g font-family="'Liberation Sans', Arial, Helvetica, sans-serif">
<rect x="40.2" y="1802.5" width="10" height="582.5" fill="#000"/>
<text transform="translate(24.2,1949.5) rotate(-90)" font-family="'Liberation Sans', Arial, Helvetica, sans-serif" font-weight="bold" font-size="25" fill="#000">Vasculature</text>
<text x="60.5" y="1831.6" font-size="25" fill="#5c5c62">pericyte</text>
<text x="617.3" y="1831.6" text-anchor="end" font-size="25" fill="#5c5c62">665</text>
<text x="60.5" y="1873.23" font-size="25" fill="#5c5c62">smooth muscle cell</text>
<text x="617.3" y="1873.23" text-anchor="end" font-size="25" fill="#5c5c62">1.8k</text>
<text x="60.5" y="1914.86" font-size="25" fill="#5c5c62">endothelial cell</text>
<text x="617.3" y="1914.86" text-anchor="end" font-size="25" fill="#5c5c62">1.5k</text>
<text x="60.5" y="1956.49" font-size="25" fill="#5c5c62">endothelial cell of lymphatic vessel</text>
<text x="617.3" y="1956.49" text-anchor="end" font-size="25" fill="#5c5c62">2</text>
<text x="60.5" y="1998.12" font-size="25" fill="#5c5c62">erythrocyte</text>
<text x="617.3" y="1998.12" text-anchor="end" font-size="25" fill="#5c5c62">3</text>
<text x="60.5" y="2039.75" font-size="25" fill="#5c5c62">plasma cell</text>
<text x="617.3" y="2039.75" text-anchor="end" font-size="25" fill="#5c5c62">34</text>
<text x="60.5" y="2081.38" font-size="25" fill="#5c5c62">mature NK T cell</text>
<text x="617.3" y="2081.38" text-anchor="end" font-size="25" fill="#5c5c62">108</text>
<text x="60.5" y="2123.01" font-size="25" fill="#5c5c62">macrophage</text>
<text x="617.3" y="2123.01" text-anchor="end" font-size="25" fill="#5c5c62">2.5k</text>
<text x="60.5" y="2164.64" font-size="25" fill="#5c5c62">B cell</text>
<text x="617.3" y="2164.64" text-anchor="end" font-size="25" fill="#5c5c62">15</text>
<text x="60.5" y="2206.27" font-size="25" fill="#5c5c62">epithelial cell</text>
<text x="617.3" y="2206.27" text-anchor="end" font-size="25" fill="#5c5c62">1.5k</text>
<text x="60.5" y="2247.9" font-size="25" fill="#5c5c62">mast cell</text>
<text x="617.3" y="2247.9" text-anchor="end" font-size="25" fill="#5c5c62">101</text>
<text x="60.5" y="2289.53" font-size="25" fill="#5c5c62">T cell</text>
<text x="617.3" y="2289.53" text-anchor="end" font-size="25" fill="#5c5c62">431</text>
<text x="60.5" y="2331.16" font-size="25" fill="#5c5c62">fibroblast</text>
<text x="617.3" y="2331.16" text-anchor="end" font-size="25" fill="#5c5c62">4k</text>
<text x="60.5" y="2372.79" font-size="25" fill="#5c5c62">endothelial cell of artery</text>
<text x="617.3" y="2372.79" text-anchor="end" font-size="25" fill="#5c5c62">21</text>
<text transform="translate(598.6,1791.5) rotate(-90)" font-size="25" fill="#5c5c62">Cell Count</text>
<text transform="translate(667.5,1791.5) rotate(-90)" font-size="25" fill="#5c5c62">TAGLN</text>
<text transform="translate(709.13,1791.5) rotate(-90)" font-size="25" fill="#5c5c62">CCN5</text>
<text transform="translate(750.76,1791.5) rotate(-90)" font-size="25" fill="#5c5c62">CHRDL1</text>
<text transform="translate(792.39,1791.5) rotate(-90)" font-size="25" fill="#5c5c62">CDCP1</text>
<text transform="translate(834.02,1791.5) rotate(-90)" font-size="25" fill="#5c5c62">PTN</text>
<circle cx="658.3" cy="1823.2" r="16" fill="#7240a0" stroke="#4e2a75" stroke-width="1"/>
<circle cx="699.93" cy="1823.2" r="6.5" fill="#f98e76" stroke="#d8765e" stroke-width="1"/>
<circle cx="741.56" cy="1823.2" r="7.9" fill="#f98e76" stroke="#d8765e" stroke-width="1"/>
<circle cx="783.19" cy="1823.2" r="3.75" fill="#fcaa7a" stroke="#db8e62" stroke-width="1"/>
<circle cx="824.82" cy="1823.2" r="4.1" fill="#f98e76" stroke="#d8765e" stroke-width="1"/>
<circle cx="658.3" cy="1864.83" r="16" fill="#7240a0" stroke="#4e2a75" stroke-width="1"/>
<circle cx="699.93" cy="1864.83" r="8.75" fill="#f8806f" stroke="#d26858" stroke-width="1"/>
<circle cx="741.56" cy="1864.83" r="3.75" fill="#f98e76" stroke="#d8765e" stroke-width="1"/>
<circle cx="783.19" cy="1864.83" r="3.75" fill="#fcaa7a" stroke="#db8e62" stroke-width="1"/>
<circle cx="824.82" cy="1864.83" r="5.85" fill="#f98e76" stroke="#d8765e" stroke-width="1"/>
<circle cx="658.3" cy="1906.46" r="7.7" fill="#f98e76" stroke="#d8765e" stroke-width="1"/>
<circle cx="699.93" cy="1906.46" r="3.65" fill="#f98e76" stroke="#d8765e" stroke-width="1"/>
<circle cx="741.56" cy="1906.46" r="11.5" fill="#fcaa7a" stroke="#db8e62" stroke-width="1"/>
<circle cx="824.82" cy="1906.46" r="3.9" fill="#fcaa7a" stroke="#db8e62" stroke-width="1"/>
<circle cx="658.3" cy="1948.09" r="11.75" fill="#f8806f" stroke="#d26858" stroke-width="1"/>
<circle cx="741.56" cy="1948.09" r="11.5" fill="#fcaa7a" stroke="#db8e62" stroke-width="1"/>
<circle cx="699.93" cy="1989.72" r="9.65" fill="#e9627f" stroke="#bb4a65" stroke-width="1"/>
<circle cx="658.3" cy="2031.35" r="3.65" fill="#f98e76" stroke="#d8765e" stroke-width="1"/>
<circle cx="658.3" cy="2072.98" r="4.95" fill="#f98e76" stroke="#d8765e" stroke-width="1"/>
<circle cx="658.3" cy="2114.61" r="8.6" fill="#f98e76" stroke="#d8765e" stroke-width="1"/>
<circle cx="699.93" cy="2114.61" r="3.65" fill="#f98e76" stroke="#d8765e" stroke-width="1"/>
<circle cx="741.56" cy="2114.61" r="3.65" fill="#f98e76" stroke="#d8765e" stroke-width="1"/>
<circle cx="783.19" cy="2114.61" r="4.85" fill="#f98e76" stroke="#d8765e" stroke-width="1"/>
<circle cx="658.3" cy="2156.24" r="8.6" fill="#f8806f" stroke="#d26858" stroke-width="1"/>
<circle cx="658.3" cy="2197.87" r="7.6" fill="#f98e76" stroke="#d8765e" stroke-width="1"/>
<circle cx="699.93" cy="2197.87" r="3.65" fill="#f98e76" stroke="#d8765e" stroke-width="1"/>
<circle cx="741.56" cy="2197.87" r="5.7" fill="#fcaa7a" stroke="#db8e62" stroke-width="1"/>
<circle cx="783.19" cy="2197.87" r="5.95" fill="#fcaa7a" stroke="#db8e62" stroke-width="1"/>
<circle cx="824.82" cy="2197.87" r="3.65" fill="#f98e76" stroke="#d8765e" stroke-width="1"/>
<circle cx="658.3" cy="2239.5" r="5.7" fill="#f98e76" stroke="#d8765e" stroke-width="1"/>
<circle cx="783.19" cy="2239.5" r="3.65" fill="#e9627f" stroke="#bb4a65" stroke-width="1"/>
<circle cx="658.3" cy="2281.13" r="6.7" fill="#f98e76" stroke="#d8765e" stroke-width="1"/>
<circle cx="699.93" cy="2281.13" r="3.65" fill="#f8806f" stroke="#d26858" stroke-width="1"/>
<circle cx="658.3" cy="2322.76" r="14.8" fill="#ef7080" stroke="#c85a68" stroke-width="1"/>
<circle cx="699.93" cy="2322.76" r="13.95" fill="#ef7080" stroke="#c85a68" stroke-width="1"/>
<circle cx="741.56" cy="2322.76" r="8.75" fill="#fcaa7a" stroke="#db8e62" stroke-width="1"/>
<circle cx="783.19" cy="2322.76" r="3.65" fill="#fcaa7a" stroke="#db8e62" stroke-width="1"/>
<circle cx="824.82" cy="2322.76" r="5" fill="#f98e76" stroke="#d8765e" stroke-width="1"/>
<circle cx="658.3" cy="2364.39" r="14.8" fill="#f98e76" stroke="#d8765e" stroke-width="1"/>
<circle cx="699.93" cy="2364.39" r="4.45" fill="#fcc488" stroke="#e0a870" stroke-width="1"/>
<rect x="46.5" y="1794.5" width="800.5" height="95" fill="none" stroke="#a6a6a6" stroke-width="2.8"/>
<rect x="47.5" y="2298.5" width="799.5" height="46.5" fill="none" stroke="#a6a6a6" stroke-width="2.8"/>
<rect x="1056.4" y="1802.9" width="9.3" height="563.1" fill="#000"/>
<text transform="translate(1040.8,1949.5) rotate(-90)" font-family="'Liberation Sans', Arial, Helvetica, sans-serif" font-weight="bold" font-size="25" fill="#000">Vasculature</text>
<text x="1076" y="1831" font-size="23.95" fill="#5c5c62">plasma cell</text>
<text x="1611.8" y="1831" text-anchor="end" font-size="23.95" fill="#5c5c62">34</text>
<text x="1076" y="1871.24" font-size="23.95" fill="#5c5c62">macrophage</text>
<text x="1611.8" y="1871.24" text-anchor="end" font-size="23.95" fill="#5c5c62">2.5k</text>
<text x="1076" y="1911.48" font-size="23.95" fill="#5c5c62">B cell</text>
<text x="1611.8" y="1911.48" text-anchor="end" font-size="23.95" fill="#5c5c62">15</text>
<text x="1076" y="1951.72" font-size="23.95" fill="#5c5c62">mature NK T cell</text>
<text x="1611.8" y="1951.72" text-anchor="end" font-size="23.95" fill="#5c5c62">108</text>
<text x="1076" y="1991.96" font-size="23.95" fill="#5c5c62">mast cell</text>
<text x="1611.8" y="1991.96" text-anchor="end" font-size="23.95" fill="#5c5c62">101</text>
<text x="1076" y="2032.2" font-size="23.95" fill="#5c5c62">T cell</text>
<text x="1611.8" y="2032.2" text-anchor="end" font-size="23.95" fill="#5c5c62">431</text>
<text x="1076" y="2072.44" font-size="23.95" fill="#5c5c62">erythrocyte</text>
<text x="1611.8" y="2072.44" text-anchor="end" font-size="23.95" fill="#5c5c62">3</text>
<text x="1076" y="2112.68" font-size="23.95" fill="#5c5c62">endothelial cell of lymphatic vessel</text>
<text x="1611.8" y="2112.68" text-anchor="end" font-size="23.95" fill="#5c5c62">2</text>
<text x="1076" y="2152.92" font-size="23.95" fill="#5c5c62">endothelial cell</text>
<text x="1611.8" y="2152.92" text-anchor="end" font-size="23.95" fill="#5c5c62">1.5k</text>
<text x="1076" y="2193.16" font-size="23.95" fill="#5c5c62">epithelial cell</text>
<text x="1611.8" y="2193.16" text-anchor="end" font-size="23.95" fill="#5c5c62">1.5k</text>
<text x="1076" y="2233.4" font-size="23.95" fill="#5c5c62">fibroblast</text>
<text x="1611.8" y="2233.4" text-anchor="end" font-size="23.95" fill="#5c5c62">4k</text>
<text x="1076" y="2273.64" font-size="23.95" fill="#5c5c62">endothelial cell of artery</text>
<text x="1611.8" y="2273.64" text-anchor="end" font-size="23.95" fill="#5c5c62">21</text>
<text x="1076" y="2313.88" font-size="23.95" fill="#5c5c62">pericyte</text>
<text x="1611.8" y="2313.88" text-anchor="end" font-size="23.95" fill="#5c5c62">665</text>
<text x="1076" y="2354.12" font-size="23.95" fill="#5c5c62">smooth muscle cell</text>
<text x="1611.8" y="2354.12" text-anchor="end" font-size="23.95" fill="#5c5c62">1.8k</text>
<text transform="translate(1595,1792.5) rotate(-90)" font-size="23.95" fill="#5c5c62">Cell Count</text>
<text transform="translate(1662.1,1792.5) rotate(-90)" font-size="23.95" fill="#5c5c62">TNFRSF11B</text>
<text transform="translate(1702.3,1792.5) rotate(-90)" font-size="23.95" fill="#5c5c62">SOST</text>
<text transform="translate(1742.5,1792.5) rotate(-90)" font-size="23.95" fill="#5c5c62">MRAP2</text>
<text transform="translate(1782.7,1792.5) rotate(-90)" font-size="23.95" fill="#5c5c62">MGP</text>
<text transform="translate(1822.9,1792.5) rotate(-90)" font-size="23.95" fill="#5c5c62">FRZB</text>
<text transform="translate(1863.1,1792.5) rotate(-90)" font-size="23.95" fill="#5c5c62">OGN</text>
<text transform="translate(1903.3,1792.5) rotate(-90)" font-size="23.95" fill="#5c5c62">COL3A1</text>
<text transform="translate(1943.5,1792.5) rotate(-90)" font-size="23.95" fill="#5c5c62">GAS6</text>
<text transform="translate(1983.7,1792.5) rotate(-90)" font-size="23.95" fill="#5c5c62">IBSP</text>
<text transform="translate(2023.9,1792.5) rotate(-90)" font-size="23.95" fill="#5c5c62">PRRG1</text>
<text transform="translate(2064.1,1792.5) rotate(-90)" font-size="23.95" fill="#5c5c62">TAGLN</text>
<text transform="translate(2104.3,1792.5) rotate(-90)" font-size="23.95" fill="#5c5c62">CHRDL1</text>
<circle cx="1773.6" cy="1822.8" r="10.15" fill="#f98e76" stroke="#d8765e" stroke-width="1"/>
<circle cx="1813.8" cy="1822.8" r="3.3" fill="#e9627f" stroke="#bb4a65" stroke-width="1"/>
<circle cx="1934.4" cy="1822.8" r="10.05" fill="#fcaa7a" stroke="#db8e62" stroke-width="1"/>
<circle cx="2055" cy="1822.8" r="3.5" fill="#f98e76" stroke="#d8765e" stroke-width="1"/>
<circle cx="1653" cy="1863.04" r="3.5" fill="#fcaa7a" stroke="#db8e62" stroke-width="1"/>
<circle cx="1693.2" cy="1863.04" r="3.5" fill="#fcaa7a" stroke="#db8e62" stroke-width="1"/>
<circle cx="1773.6" cy="1863.04" r="12.5" fill="#f8806f" stroke="#d26858" stroke-width="1"/>
<circle cx="1854" cy="1863.04" r="3.5" fill="#f98e76" stroke="#d8765e" stroke-width="1"/>
<circle cx="1894.2" cy="1863.04" r="4.4" fill="#f98e76" stroke="#d8765e" stroke-width="1"/>
<circle cx="1934.4" cy="1863.04" r="7.2" fill="#fcaa7a" stroke="#db8e62" stroke-width="1"/>
<circle cx="1974.6" cy="1863.04" r="3.75" fill="#ef7080" stroke="#c85a68" stroke-width="1"/>
<circle cx="2014.8" cy="1863.04" r="3.5" fill="#fcaa7a" stroke="#db8e62" stroke-width="1"/>
<circle cx="2055" cy="1863.04" r="8.25" fill="#f98e76" stroke="#d8765e" stroke-width="1"/>
<circle cx="2095.2" cy="1863.04" r="3.5" fill="#f98e76" stroke="#d8765e" stroke-width="1"/>
<circle cx="1773.6" cy="1903.28" r="10.15" fill="#f8806f" stroke="#d26858" stroke-width="1"/>
<circle cx="2055" cy="1903.28" r="8.25" fill="#f8806f" stroke="#d26858" stroke-width="1"/>
<circle cx="1773.6" cy="1943.52" r="10.15" fill="#f8806f" stroke="#d26858" stroke-width="1"/>
<circle cx="1854" cy="1943.52" r="3.75" fill="#ef7080" stroke="#c85a68" stroke-width="1"/>
<circle cx="1894.2" cy="1943.52" r="3.75" fill="#f98e76" stroke="#d8765e" stroke-width="1"/>
<circle cx="2055" cy="1943.52" r="4.4" fill="#f98e76" stroke="#d8765e" stroke-width="1"/>
<circle cx="1773.6" cy="1983.76" r="11.3" fill="#f98e76" stroke="#d8765e" stroke-width="1"/>
<circle cx="1934.4" cy="1983.76" r="3.4" fill="#ef7080" stroke="#c85a68" stroke-width="1"/>
<circle cx="2055" cy="1983.76" r="5.6" fill="#f98e76" stroke="#d8765e" stroke-width="1"/>
<circle cx="1653" cy="2024" r="3.7" fill="#f8806f" stroke="#d26858" stroke-width="1"/>
<circle cx="1773.6" cy="2024" r="11.3" fill="#f8806f" stroke="#d26858" stroke-width="1"/>
<circle cx="1854" cy="2024" r="3.7" fill="#f98e76" stroke="#d8765e" stroke-width="1"/>
<circle cx="1894.2" cy="2024" r="3.5" fill="#f98e76" stroke="#d8765e" stroke-width="1"/>
<circle cx="1934.4" cy="2024" r="3.5" fill="#f98e76" stroke="#d8765e" stroke-width="1"/>
<circle cx="2014.8" cy="2024" r="3.5" fill="#fcaa7a" stroke="#db8e62" stroke-width="1"/>
<circle cx="2055" cy="2024" r="6.6" fill="#f8806f" stroke="#d26858" stroke-width="1"/>
<circle cx="1773.6" cy="2064.24" r="15.65" fill="#ef7080" stroke="#c85a68" stroke-width="1"/>
<circle cx="1854" cy="2064.24" r="9.65" fill="#ef7080" stroke="#c85a68" stroke-width="1"/>
<circle cx="1894.2" cy="2064.24" r="9.5" fill="#ef7080" stroke="#c85a68" stroke-width="1"/>
<circle cx="1773.6" cy="2104.48" r="15.65" fill="#ef7080" stroke="#c85a68" stroke-width="1"/>
<circle cx="1934.4" cy="2104.48" r="11.25" fill="#f98e76" stroke="#d8765e" stroke-width="1"/>
<circle cx="2055" cy="2104.48" r="11.5" fill="#f8806f" stroke="#d26858" stroke-width="1"/>
<circle cx="2095.2" cy="2104.48" r="11.25" fill="#fcaa7a" stroke="#db8e62" stroke-width="1"/>
<circle cx="1653" cy="2144.72" r="3.5" fill="#f8806f" stroke="#d26858" stroke-width="1"/>
<circle cx="1693.2" cy="2144.72" r="3.5" fill="#ef7080" stroke="#c85a68" stroke-width="1"/>
<circle cx="1733.4" cy="2144.72" r="3.5" fill="#fcaa7a" stroke="#db8e62" stroke-width="1"/>
<circle cx="1773.6" cy="2144.72" r="13.65" fill="#d85b8a" stroke="#a84468" stroke-width="1"/>
<circle cx="1813.8" cy="2144.72" r="3.5" fill="#f98e76" stroke="#d8765e" stroke-width="1"/>
<circle cx="1854" cy="2144.72" r="5.75" fill="#f8806f" stroke="#d26858" stroke-width="1"/>
<circle cx="1894.2" cy="2144.72" r="3.5" fill="#f98e76" stroke="#d8765e" stroke-width="1"/>
<circle cx="1934.4" cy="2144.72" r="7.5" fill="#f98e76" stroke="#d8765e" stroke-width="1"/>
<circle cx="2014.8" cy="2144.72" r="4.25" fill="#f98e76" stroke="#d8765e" stroke-width="1"/>
<circle cx="2055" cy="2144.72" r="7.4" fill="#f8806f" stroke="#d26858" stroke-width="1"/>
<circle cx="2095.2" cy="2144.72" r="11.25" fill="#fcaa7a" stroke="#db8e62" stroke-width="1"/>
<circle cx="1653" cy="2184.96" r="3.5" fill="#f8806f" stroke="#d26858" stroke-width="1"/>
<circle cx="1693.2" cy="2184.96" r="3.5" fill="#f8806f" stroke="#d26858" stroke-width="1"/>
<circle cx="1733.4" cy="2184.96" r="3.5" fill="#fcaa7a" stroke="#db8e62" stroke-width="1"/>
<circle cx="1773.6" cy="2184.96" r="13.5" fill="#d85b8a" stroke="#a84468" stroke-width="1"/>
<circle cx="1813.8" cy="2184.96" r="3.5" fill="#f98e76" stroke="#d8765e" stroke-width="1"/>
<circle cx="1854" cy="2184.96" r="5.5" fill="#f8806f" stroke="#d26858" stroke-width="1"/>
<circle cx="1894.2" cy="2184.96" r="4.25" fill="#f98e76" stroke="#d8765e" stroke-width="1"/>
<circle cx="1934.4" cy="2184.96" r="7.5" fill="#f98e76" stroke="#d8765e" stroke-width="1"/>
<circle cx="2014.8" cy="2184.96" r="4.25" fill="#f98e76" stroke="#d8765e" stroke-width="1"/>
<circle cx="2055" cy="2184.96" r="7.4" fill="#f98e76" stroke="#d8765e" stroke-width="1"/>
<circle cx="2095.2" cy="2184.96" r="5" fill="#fcaa7a" stroke="#db8e62" stroke-width="1"/>
<circle cx="1653" cy="2225.2" r="3.5" fill="#f98e76" stroke="#d8765e" stroke-width="1"/>
<circle cx="1733.4" cy="2225.2" r="3.5" fill="#fcaa7a" stroke="#db8e62" stroke-width="1"/>
<circle cx="1773.6" cy="2225.2" r="15.8" fill="#7240a0" stroke="#4e2a75" stroke-width="1"/>
<circle cx="1813.8" cy="2225.2" r="3.5" fill="#fcaa7a" stroke="#db8e62" stroke-width="1"/>
<circle cx="1854" cy="2225.2" r="13.6" fill="#f8806f" stroke="#d26858" stroke-width="1"/>
<circle cx="1894.2" cy="2225.2" r="13.6" fill="#ef7080" stroke="#c85a68" stroke-width="1"/>
<circle cx="1934.4" cy="2225.2" r="9.5" fill="#f98e76" stroke="#d8765e" stroke-width="1"/>
<circle cx="2014.8" cy="2225.2" r="3.5" fill="#fcaa7a" stroke="#db8e62" stroke-width="1"/>
<circle cx="2055" cy="2225.2" r="14.3" fill="#ef7080" stroke="#c85a68" stroke-width="1"/>
<circle cx="2095.2" cy="2225.2" r="8.5" fill="#f98e76" stroke="#d8765e" stroke-width="1"/>
<circle cx="1653" cy="2265.44" r="4.25" fill="#fcc488" stroke="#e0a870" stroke-width="1"/>
<circle cx="1773.6" cy="2265.44" r="15.65" fill="#a4509e" stroke="#783a72" stroke-width="1"/>
<circle cx="1854" cy="2265.44" r="7.5" fill="#f8806f" stroke="#d26858" stroke-width="1"/>
<circle cx="1894.2" cy="2265.44" r="7.3" fill="#f98e76" stroke="#d8765e" stroke-width="1"/>
<circle cx="1934.4" cy="2265.44" r="11.25" fill="#f98e76" stroke="#d8765e" stroke-width="1"/>
<circle cx="2014.8" cy="2265.44" r="7.2" fill="#fcaa7a" stroke="#db8e62" stroke-width="1"/>
<circle cx="2055" cy="2265.44" r="14.5" fill="#f98e76" stroke="#d8765e" stroke-width="1"/>
<circle cx="1653" cy="2305.68" r="3.5" fill="#f8806f" stroke="#d26858" stroke-width="1"/>
<circle cx="1733.4" cy="2305.68" r="3.5" fill="#e9627f" stroke="#bb4a65" stroke-width="1"/>
<circle cx="1773.6" cy="2305.68" r="15.5" fill="#b8569e" stroke="#8a3c74" stroke-width="1"/>
<circle cx="1813.8" cy="2305.68" r="7.2" fill="#fcaa7a" stroke="#db8e62" stroke-width="1"/>
<circle cx="1854" cy="2305.68" r="3.25" fill="#f8806f" stroke="#d26858" stroke-width="1"/>
<circle cx="1894.2" cy="2305.68" r="12.5" fill="#f98e76" stroke="#d8765e" stroke-width="1"/>
<circle cx="1934.4" cy="2305.68" r="8.3" fill="#fcaa7a" stroke="#db8e62" stroke-width="1"/>
<circle cx="1974.6" cy="2305.68" r="3.5" fill="#ef7080" stroke="#c85a68" stroke-width="1"/>
<circle cx="2014.8" cy="2305.68" r="3.5" fill="#fcaa7a" stroke="#db8e62" stroke-width="1"/>
<circle cx="2055" cy="2305.68" r="15.65" fill="#7240a0" stroke="#4e2a75" stroke-width="1"/>
<circle cx="2095.2" cy="2305.68" r="7.3" fill="#f98e76" stroke="#d8765e" stroke-width="1"/>
<circle cx="1653" cy="2345.92" r="11.4" fill="#ef7080" stroke="#c85a68" stroke-width="1"/>
<circle cx="1693.2" cy="2345.92" r="4.25" fill="#f8806f" stroke="#d26858" stroke-width="1"/>
<circle cx="1733.4" cy="2345.92" r="6.25" fill="#fcaa7a" stroke="#db8e62" stroke-width="1"/>
<circle cx="1773.6" cy="2345.92" r="15.8" fill="#7240a0" stroke="#4e2a75" stroke-width="1"/>
<circle cx="1813.8" cy="2345.92" r="10.15" fill="#f98e76" stroke="#d8765e" stroke-width="1"/>
<circle cx="1854" cy="2345.92" r="13.6" fill="#ef7080" stroke="#c85a68" stroke-width="1"/>
<circle cx="1894.2" cy="2345.92" r="12.5" fill="#f8806f" stroke="#d26858" stroke-width="1"/>
<circle cx="1934.4" cy="2345.92" r="12.5" fill="#f98e76" stroke="#d8765e" stroke-width="1"/>
<circle cx="1974.6" cy="2345.92" r="3.5" fill="#fcc488" stroke="#e0a870" stroke-width="1"/>
<circle cx="2014.8" cy="2345.92" r="3.5" fill="#f98e76" stroke="#d8765e" stroke-width="1"/>
<circle cx="2055" cy="2345.92" r="15.65" fill="#7240a0" stroke="#4e2a75" stroke-width="1"/>
<circle cx="2095.2" cy="2345.92" r="3.5" fill="#f98e76" stroke="#d8765e" stroke-width="1"/>
<rect x="1062" y="2202.6" width="1058.3" height="176.4" fill="none" stroke="#a6a6a6" stroke-width="2.8"/>
</g>
</svg></body></html>
